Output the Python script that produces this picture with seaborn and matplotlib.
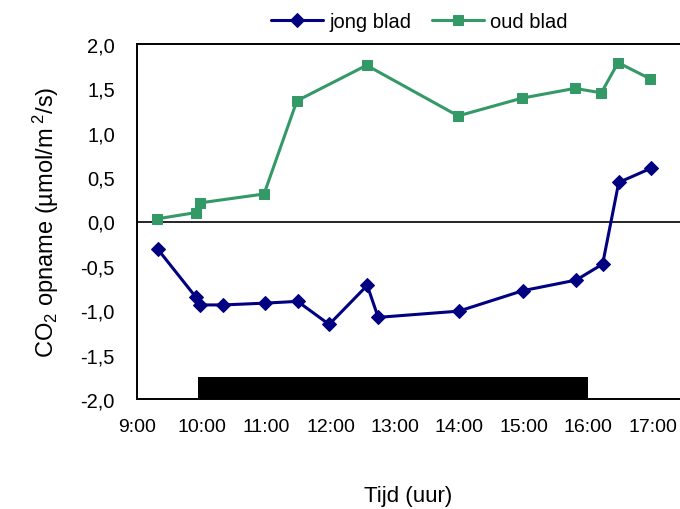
import matplotlib
matplotlib.use("Agg")
import matplotlib.pyplot as plt
import seaborn as sns
import pandas as pd
from matplotlib.patches import Rectangle

# Data (time in decimal hours)
jong_tijd = [9.32, 9.91, 9.98, 10.34, 10.98, 11.49, 11.98, 12.57, 12.74, 13.99, 14.98, 15.81, 16.22, 16.47, 16.97]
jong_co2 = [-0.31, -0.85, -0.94, -0.94, -0.92, -0.90, -1.16, -0.72, -1.08, -1.01, -0.78, -0.66, -0.48, 0.44, 0.60]
oud_tijd = [9.31, 9.91, 9.98, 10.97, 11.48, 12.56, 13.98, 14.97, 15.79, 16.20, 16.46, 16.95]
oud_co2 = [0.03, 0.10, 0.21, 0.31, 1.36, 1.76, 1.19, 1.39, 1.50, 1.45, 1.79, 1.61]
x_ticks = [9, 10, 11, 12, 13, 14, 15, 16, 17]
x_labels = ["9:00", "10:00", "11:00", "12:00", "13:00", "14:00", "15:00", "16:00", "17:00"]
y_ticks = [-2.0, -1.5, -1.0, -0.5, 0.0, 0.5, 1.0, 1.5, 2.0]
y_labels = ["-2,0", "-1,5", "-1,0", "-0,5", "0,0", "0,5", "1,0", "1,5", "2,0"]
donker_start, donker_eind = 9.95, 16.0

sns.set_style("white")
fam = ["Liberation Sans", "DejaVu Sans"]
plt.rcParams["font.family"] = fam
plt.rcParams["mathtext.fontset"] = "custom"
plt.rcParams["mathtext.rm"] = "Liberation Sans"
plt.rcParams["mathtext.it"] = "Liberation Sans"
for k in ["text.color", "axes.labelcolor", "xtick.color", "ytick.color"]:
    plt.rcParams[k] = "black"

df_j = pd.DataFrame({"tijd": jong_tijd, "co2": jong_co2})
df_o = pd.DataFrame({"tijd": oud_tijd, "co2": oud_co2})

fig = plt.figure(figsize=(6.8, 5.1), dpi=100)
ax = fig.add_axes([137/680, 1-400/510, 1-137/680, (400-45)/510])

ax.axhline(0, color="black", lw=1.2, zorder=1)
ax.add_patch(Rectangle((donker_start, -2.0), donker_eind - donker_start, 0.25,
                       facecolor="black", edgecolor="none", zorder=2))

sns.lineplot(data=df_j, x="tijd", y="co2", ax=ax, sort=False, color="#000080",
             marker="D", markersize=7.5, markeredgecolor="#000080", lw=2.2,
             label="jong blad", zorder=3)
sns.lineplot(data=df_o, x="tijd", y="co2", ax=ax, sort=False, color="#339966",
             marker="s", markersize=7.5, markeredgecolor="#339966", lw=2.2,
             label="oud blad", zorder=3)

ax.set_xlim(9, 17.42)
ax.set_ylim(-2.0, 2.0)
ax.set_xticks(x_ticks)
ax.set_xticklabels(x_labels)
ax.set_yticks(y_ticks)
ax.set_yticklabels(y_labels)
ax.tick_params(axis="x", direction="out", length=6, width=1.2, labelsize=14, pad=8, color="black")
ax.tick_params(axis="y", direction="in", length=6, width=1.2, labelsize=14.5, pad=16, color="black")
for s in ["left", "bottom", "top"]:
    ax.spines[s].set_color("black")
    ax.spines[s].set_linewidth(1.4)
ax.spines["right"].set_visible(False)

ax.set_xlabel("Tijd (uur)", fontsize=16, labelpad=36)
ax.set_ylabel("CO$_2$ opname (µmol/m$^{\\ 2}$/s)", fontsize=17, labelpad=14)

leg = ax.legend(loc="upper center", bbox_to_anchor=(0.52, 1.14), ncol=2, frameon=False,
                fontsize=14.5, handlelength=2.6, columnspacing=1.0, handletextpad=0.3)

fig.savefig("out.png", dpi=100)
